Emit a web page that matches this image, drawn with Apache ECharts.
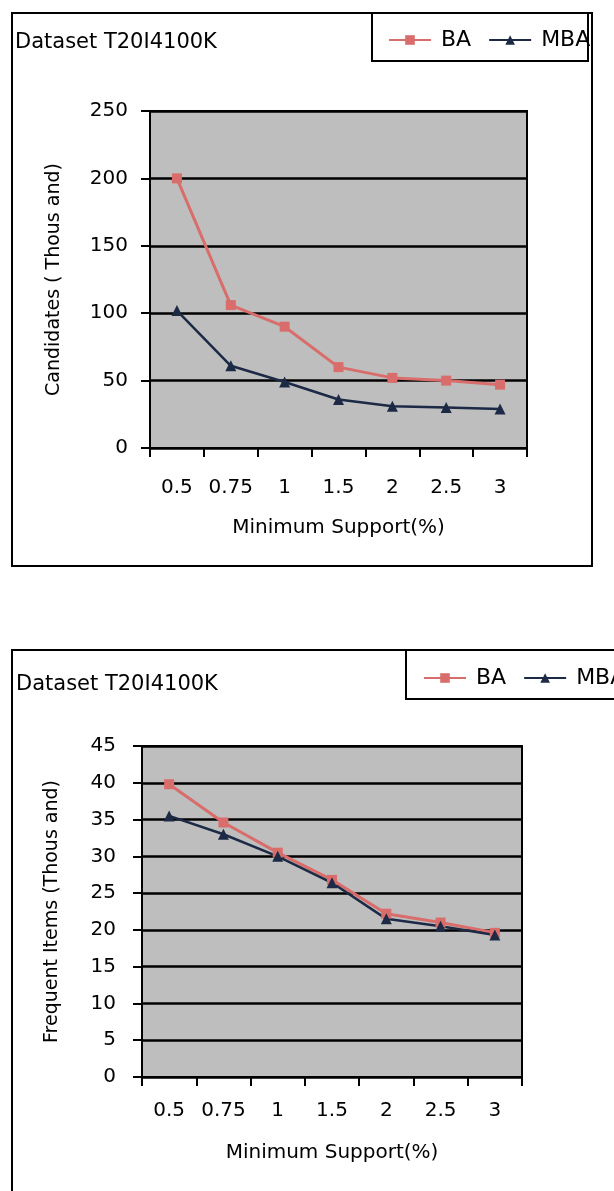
<!DOCTYPE html>
<html>
<head>
<meta charset="utf-8">
<script src="https://cdn.jsdelivr.net/npm/echarts@6/dist/echarts.min.js"></script>
<style>
  html, body { margin: 0; padding: 0; background: #fff; }
  #chart { width: 614px; height: 1191px; }
</style>
</head>
<body>
<div id="chart"></div>
<script>
// Minimum support levels (%) shared by both panels
const supportLevels = ['0.5', '0.75', '1', '1.5', '2', '2.5', '3'];

// Panel 1: candidate itemsets (thousand)
const candidatesBA  = [200, 106, 90, 60, 52, 50, 47];
const candidatesMBA = [102, 61, 49, 36, 31, 30, 29];

// Panel 2: frequent itemsets (thousand)
const frequentBA  = [39.8, 34.6, 30.5, 26.8, 22.2, 21.0, 19.6];
const frequentMBA = [35.5, 33.0, 30.0, 26.4, 21.5, 20.5, 19.3];

const datasetTitle = 'Dataset T20I4100K';
const seriesNames = ['BA', 'MBA'];

const FONT = '"DejaVu Sans", "Liberation Sans", Arial, sans-serif';
const RED = '#d86d6b';
const NAVY = '#1c2a46';
const PLOT_BG = '#bebebe';

function gridCfg(left, top, width, height) {
  return {
    left, top, width, height,
    show: true,
    backgroundColor: PLOT_BG,
    borderColor: '#000',
    borderWidth: 2
  };
}

function xAxisCfg(gridIndex, labelMargin, nameGap) {
  return {
    type: 'category',
    gridIndex,
    data: supportLevels,
    boundaryGap: true,
    name: 'Minimum Support(%)',
    nameLocation: 'middle',
    nameGap,
    nameTextStyle: { fontFamily: FONT, fontSize: 20, color: '#000' },
    axisLine: { lineStyle: { color: '#000', width: 2 } },
    axisTick: { show: true, inside: false, interval: 0, length: 9, lineStyle: { color: '#000', width: 2 } },
    axisLabel: { interval: 0, hideOverlap: false, margin: labelMargin, fontFamily: FONT, fontSize: 20, color: '#000' },
    splitLine: { show: false }
  };
}

function yAxisCfg(gridIndex, max, interval, name, labelMargin, nameGap) {
  return {
    type: 'value',
    gridIndex,
    min: 0, max, interval,
    name,
    nameLocation: 'middle',
    nameGap,
    nameRotate: 90,
    nameTextStyle: { fontFamily: FONT, fontSize: 19, color: '#000' },
    axisLine: { show: true, lineStyle: { color: '#000', width: 2 } },
    axisTick: { show: true, inside: false, length: 9, lineStyle: { color: '#000', width: 2 } },
    axisLabel: { margin: labelMargin, fontFamily: FONT, fontSize: 20, color: '#000' },
    splitLine: { show: true, lineStyle: { color: '#000', width: 2.5 } }
  };
}

function lineSeries(name, data, xi, yi, color, symbol, width) {
  return {
    name, type: 'line', data,
    xAxisIndex: xi, yAxisIndex: yi,
    symbol, symbolSize: symbol === 'triangle' ? 11 : 10,
    lineStyle: { color, width },
    itemStyle: { color, borderWidth: 0 },
    animation: false,
    z: 5
  };
}

function legendCfg(left, top) {
  return {
    data: seriesNames,
    left, top,
    width: 260,
    orient: 'horizontal',
    itemWidth: 42, itemHeight: 12,
    itemGap: 17,
    textStyle: { fontFamily: FONT, fontSize: 22, color: '#000', padding: [0, 0, 0, 5] },
    selectedMode: false
  };
}

const chart = echarts.init(document.getElementById('chart'), null, { renderer: 'canvas' });

chart.setOption({
  animation: false,
  backgroundColor: '#fff',
  grid: [
    gridCfg(150, 111, 377, 337),
    gridCfg(142, 746, 380, 331)
  ],
  xAxis: [
    xAxisCfg(0, 30, 70),
    xAxisCfg(1, 24, 66)
  ],
  yAxis: [
    yAxisCfg(0, 250, 50, 'Candidates ( Thous and)', 22, 86),
    yAxisCfg(1, 45, 5, 'Frequent Items (Thous and)', 26, 80)
  ],
  legend: [
    legendCfg(383, 24),
    legendCfg(418, 662)
  ],
  series: [
    lineSeries('BA', candidatesBA, 0, 0, RED, 'rect', 3),
    lineSeries('MBA', candidatesMBA, 0, 0, NAVY, 'triangle', 2.5),
    lineSeries('BA', frequentBA, 1, 1, RED, 'rect', 3),
    lineSeries('MBA', frequentMBA, 1, 1, NAVY, 'triangle', 2.5)
  ],
  graphic: [
    // panel frames
    { type: 'rect', shape: { x: 12, y: 13, width: 580, height: 553 },
      style: { fill: 'none', stroke: '#000', lineWidth: 2 }, z: 0 },
    { type: 'rect', shape: { x: 372, y: 13, width: 216, height: 48 },
      style: { fill: 'none', stroke: '#000', lineWidth: 2 }, z: 0 },
    { type: 'rect', shape: { x: 12, y: 650, width: 700, height: 700 },
      style: { fill: 'none', stroke: '#000', lineWidth: 2 }, z: 0 },
    { type: 'rect', shape: { x: 406, y: 650, width: 300, height: 49 },
      style: { fill: 'none', stroke: '#000', lineWidth: 2 }, z: 0 },
    // panel titles
    { type: 'text', left: 15, top: 32,
      style: { text: datasetTitle, fontFamily: FONT, fontSize: 21, fill: '#000' } },
    { type: 'text', left: 16, top: 674,
      style: { text: datasetTitle, fontFamily: FONT, fontSize: 21, fill: '#000' } }
  ]
});
</script>
</body>
</html>
